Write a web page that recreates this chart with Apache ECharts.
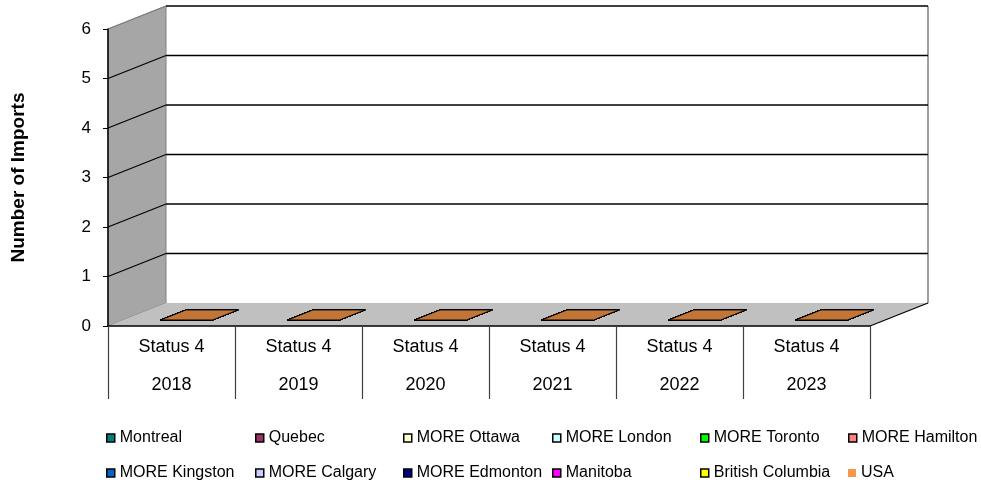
<!DOCTYPE html>
<html>
<head>
<meta charset="utf-8">
<style>
  html, body { margin: 0; padding: 0; background: #fff; }
  #chart { width: 981px; height: 489px; }
</style>
</head>
<body>
<div id="chart"></div>
<script src="https://cdn.jsdelivr.net/npm/echarts@6/dist/echarts.min.js"></script>
<script>
// category labels
var statusLabel = 'Status 4';
var years = ['2018', '2019', '2020', '2021', '2022', '2023'];
var yTicks = [0, 1, 2, 3, 4, 5, 6];

// number of imports per series (all zero in the picture)
var montreal = [0, 0, 0, 0, 0, 0];
var quebec = [0, 0, 0, 0, 0, 0];
var moreOttawa = [0, 0, 0, 0, 0, 0];
var moreLondon = [0, 0, 0, 0, 0, 0];
var moreToronto = [0, 0, 0, 0, 0, 0];
var moreHamilton = [0, 0, 0, 0, 0, 0];
var moreKingston = [0, 0, 0, 0, 0, 0];
var moreCalgary = [0, 0, 0, 0, 0, 0];
var moreEdmonton = [0, 0, 0, 0, 0, 0];
var manitoba = [0, 0, 0, 0, 0, 0];
var britishColumbia = [0, 0, 0, 0, 0, 0];
var usa = [0, 0, 0, 0, 0, 0];

var seriesNames = ['Montreal', 'Quebec', 'MORE Ottawa', 'MORE London', 'MORE Toronto', 'MORE Hamilton',
  'MORE Kingston', 'MORE Calgary', 'MORE Edmonton', 'Manitoba', 'British Columbia', 'USA'];
var seriesData = [montreal, quebec, moreOttawa, moreLondon, moreToronto, moreHamilton,
  moreKingston, moreCalgary, moreEdmonton, manitoba, britishColumbia, usa];
var seriesColors = ['#008080', '#993366', '#FFFFCC', '#CCFFFF', '#00FF00', '#FF8080',
  '#0066CC', '#CCCCFF', '#000080', '#FF00FF', '#FFFF00', '#F79646'];

var categories = years.map(function (y) { return statusLabel + '\n' + y; });

// 3d depth offset of the back wall
var DX = 58, DY = -23;
// bar placement inside the depth
var Z0 = 0.26, Z1 = 0.7, BAR_FRAC = 0.41;
// legend grid: 6 columns, 2 rows
var legendCols = [106, 255, 403, 552, 700, 848];
var legendRows = [430, 465];

var chart = echarts.init(document.getElementById('chart'));

function shade(hex, f) {
  var n = parseInt(hex.slice(1), 16);
  var r = Math.round(((n >> 16) & 255) * f), g = Math.round(((n >> 8) & 255) * f), b = Math.round((n & 255) * f);
  return 'rgb(' + r + ',' + g + ',' + b + ')';
}

function renderWalls(params, api) {
  var c = params.coordSys;
  var x = c.x, y = c.y, w = c.width, h = c.height;
  return {
    type: 'group',
    children: [
      { type: 'rect', shape: { x: x + DX, y: y + DY, width: w, height: h }, style: { fill: '#fff' } },
      { type: 'polygon', shape: { points: [[x, y + h], [x, y], [x + DX, y + DY], [x + DX, y + h + DY]] },
        style: { fill: '#A6A6A6', stroke: '#808080', lineWidth: 1 } },
      { type: 'polygon', shape: { points: [[x, y + h], [x + w, y + h], [x + w + DX, y + h + DY], [x + DX, y + h + DY]] },
        style: { fill: '#C0C0C0' } },
      { type: 'line', shape: { x1: x + w + DX, y1: y + DY, x2: x + w + DX, y2: y + h + DY },
        style: { stroke: '#A0A0A0', lineWidth: 2 } },
      { type: 'line', shape: { x1: x + w, y1: y + h, x2: x + w + DX, y2: y + h + DY },
        style: { stroke: '#000', lineWidth: 1.2 } }
    ]
  };
}

function renderGridLine(params, api) {
  var c = params.coordSys;
  var v = api.value(1);
  if (v === 0) return null;
  var yy = api.coord([0, v])[1];
  var top = v === yTicks[yTicks.length - 1];
  return {
    type: 'group',
    children: [
      { type: 'line', shape: { x1: c.x, y1: yy, x2: c.x + DX, y2: yy + DY },
        style: { stroke: top ? '#808080' : '#000', lineWidth: 1.2 } },
      { type: 'line', shape: { x1: c.x + DX, y1: yy + DY, x2: c.x + c.width + DX, y2: yy + DY },
        style: { stroke: '#000', lineWidth: 1.5 } }
    ]
  };
}

function makeBarRenderer(color) {
  return function (params, api) {
    var i = api.value(0), v = api.value(1);
    var base = api.coord([i, 0]);
    var topY = api.coord([i, v])[1];
    var bw = api.size([1, 0])[0] * BAR_FRAC;
    var x0 = base[0] - bw / 2, x1 = x0 + bw;
    var fx = DX * Z0, fy = DY * Z0, bx = DX * Z1, by = DY * Z1;
    var edge = { stroke: '#000', lineWidth: 1 };
    var kids = [];
    if (base[1] - topY > 0.5) {
      kids.push({ type: 'rect', shape: { x: x0 + fx, y: topY + fy, width: bw, height: base[1] - topY },
        style: Object.assign({ fill: color }, edge) });
      kids.push({ type: 'polygon', shape: { points: [[x1 + fx, topY + fy], [x1 + bx, topY + by], [x1 + bx, base[1] + by], [x1 + fx, base[1] + fy]] },
        style: Object.assign({ fill: shade(color, 0.6) }, edge) });
    }
    kids.push({ type: 'polygon', shape: { points: [[x0 + fx, topY + fy], [x1 + fx, topY + fy], [x1 + bx, topY + by], [x0 + bx, topY + by]] },
      style: Object.assign({ fill: shade(color, 0.78) }, edge) });
    return { type: 'group', children: kids };
  };
}

var series = [
  { name: 'walls', type: 'custom', renderItem: renderWalls, data: [[0, 0]], encode: { x: 0, y: 1 }, z: 1, silent: true },
  { name: 'grid', type: 'custom', renderItem: renderGridLine, data: yTicks.map(function (v) { return [0, v]; }), encode: { x: 0, y: 1 }, z: 1, silent: true }
];
seriesNames.forEach(function (name, k) {
  series.push({
    name: name,
    type: 'custom',
    renderItem: makeBarRenderer(seriesColors[k]),
    itemStyle: { color: seriesColors[k] },
    data: seriesData[k].map(function (v, i) { return [i, v]; }),
    encode: { x: 0, y: 1 },
    z: 3
  });
});

// one legend per entry so the columns line up like the original
var legends = seriesNames.map(function (name, k) {
  return {
    left: legendCols[k % 6],
    top: legendRows[Math.floor(k / 6)],
    padding: 0,
    icon: 'rect',
    itemWidth: 8,
    itemHeight: 8,
    itemStyle: name === 'USA' ? { borderWidth: 0 } : { borderColor: '#000', borderWidth: 1.5 },
    textStyle: { fontFamily: 'Liberation Sans', fontSize: 16, color: '#000' },
    selectedMode: false,
    data: [name]
  };
});

var option = {
  animation: false,
  textStyle: { fontFamily: 'Liberation Sans' },
  grid: { left: 108, right: 111, top: 29, bottom: 163 },
  legend: legends,
  xAxis: {
    type: 'category',
    data: categories,
    z: 5,
    axisLine: { show: true, lineStyle: { color: '#000', width: 1.5 } },
    axisTick: { show: true, alignWithLabel: false, length: 73, lineStyle: { color: '#404040', width: 1.2 } },
    axisLabel: { color: '#000', fontSize: 18, lineHeight: 38, margin: 2, interval: 0 }
  },
  yAxis: {
    type: 'value',
    min: 0, max: 6, interval: 1,
    z: 5,
    name: 'Number of Imports',
    nameLocation: 'middle',
    nameGap: 80,
    nameTextStyle: { fontSize: 19, fontWeight: 'bold', color: '#000' },
    axisLine: { show: true, lineStyle: { color: '#000', width: 1.5 } },
    axisTick: { show: true, length: 5, lineStyle: { color: '#000' } },
    axisLabel: { color: '#000', fontSize: 17, margin: 17 },
    splitLine: { show: false }
  },
  series: series
};

chart.setOption(option);
</script>
</body>
</html>
